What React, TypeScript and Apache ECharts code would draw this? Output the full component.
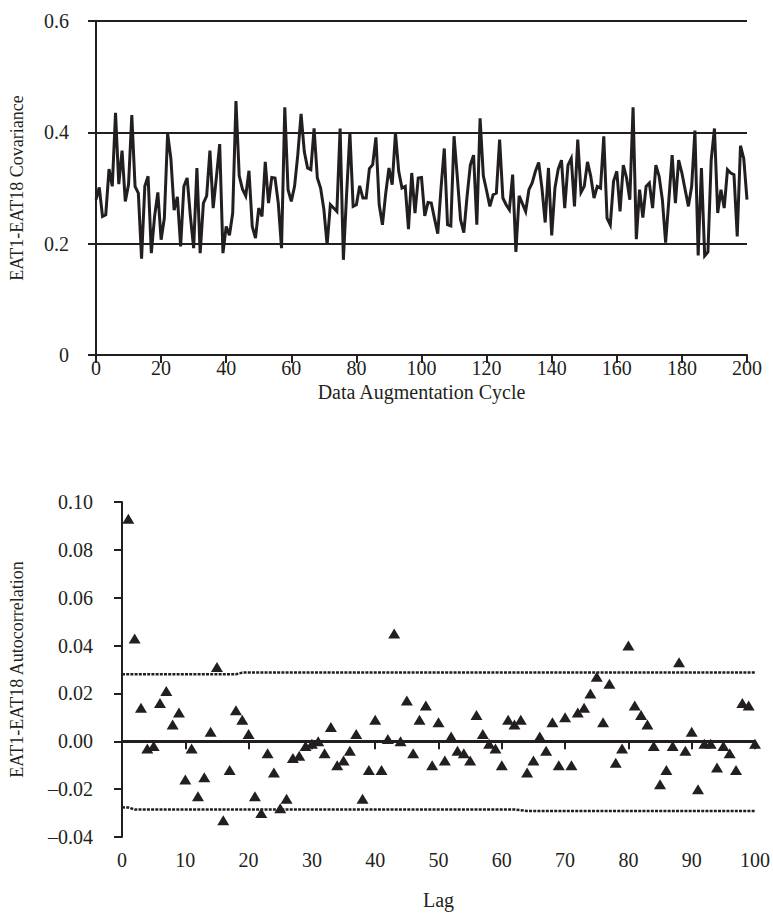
import React, { useEffect, useRef } from "react";
import * as echarts from "echarts";

// Top panel: covariance per data augmentation cycle (cycles 0..200)
const covariance: number[] = [
  0.279, 0.301, 0.249, 0.252, 0.334, 0.303, 0.435, 0.307, 0.367, 0.276,
  0.306, 0.431, 0.303, 0.291, 0.173, 0.303, 0.321, 0.183, 0.249, 0.292,
  0.207, 0.246, 0.398, 0.353, 0.260, 0.284, 0.195, 0.303, 0.318, 0.249,
  0.192, 0.336, 0.183, 0.273, 0.286, 0.367, 0.264, 0.320, 0.379, 0.183,
  0.231, 0.215, 0.255, 0.456, 0.322, 0.298, 0.286, 0.331, 0.231, 0.210,
  0.264, 0.249, 0.347, 0.273, 0.319, 0.318, 0.273, 0.192, 0.445, 0.297,
  0.276, 0.303, 0.360, 0.433, 0.365, 0.336, 0.333, 0.407, 0.318, 0.300,
  0.262, 0.198, 0.270, 0.264, 0.258, 0.407, 0.171, 0.290, 0.399, 0.267,
  0.270, 0.304, 0.282, 0.282, 0.335, 0.342, 0.391, 0.270, 0.234, 0.290,
  0.336, 0.306, 0.399, 0.330, 0.300, 0.303, 0.226, 0.327, 0.255, 0.318,
  0.319, 0.250, 0.274, 0.273, 0.245, 0.218, 0.300, 0.371, 0.234, 0.232,
  0.393, 0.320, 0.243, 0.220, 0.285, 0.341, 0.359, 0.234, 0.425, 0.322,
  0.295, 0.267, 0.288, 0.291, 0.387, 0.282, 0.270, 0.261, 0.324, 0.185,
  0.286, 0.272, 0.258, 0.297, 0.309, 0.330, 0.346, 0.300, 0.238, 0.336,
  0.215, 0.300, 0.334, 0.350, 0.264, 0.341, 0.353, 0.267, 0.387, 0.292,
  0.303, 0.347, 0.321, 0.282, 0.303, 0.300, 0.393, 0.246, 0.234, 0.312,
  0.330, 0.258, 0.341, 0.318, 0.279, 0.445, 0.208, 0.297, 0.247, 0.303,
  0.309, 0.264, 0.341, 0.321, 0.279, 0.202, 0.279, 0.359, 0.273, 0.350,
  0.327, 0.297, 0.267, 0.303, 0.403, 0.179, 0.336, 0.178, 0.185, 0.350,
  0.407, 0.255, 0.297, 0.264, 0.333, 0.327, 0.324, 0.213, 0.376, 0.353,
  0.279,
];

// Bottom panel: autocorrelation per lag (lags 1..100)
const autocorrelation: number[] = [
  0.093, 0.043, 0.014, -0.003, -0.002, 0.016, 0.021, 0.007, 0.012, -0.016,
  -0.003, -0.023, -0.015, 0.004, 0.031, -0.033, -0.012, 0.013, 0.009, 0.003,
  -0.023, -0.030, -0.005, -0.013, -0.028, -0.024, -0.007, -0.006, -0.002, -0.001,
  0.000, -0.005, 0.006, -0.010, -0.008, -0.004, 0.003, -0.024, -0.012, 0.009,
  -0.012, 0.001, 0.045, -0.000, 0.017, -0.005, 0.009, 0.015, -0.010, 0.008,
  -0.008, 0.002, -0.004, -0.005, -0.008, 0.011, 0.003, -0.001, -0.003, -0.010,
  0.009, 0.007, 0.009, -0.013, -0.008, 0.002, -0.004, 0.008, -0.010, 0.010,
  -0.010, 0.012, 0.014, 0.020, 0.027, 0.008, 0.024, -0.009, -0.003, 0.040,
  0.015, 0.011, 0.007, -0.002, -0.018, -0.012, -0.002, 0.033, -0.004, 0.004,
  -0.020, -0.001, -0.001, -0.011, -0.002, -0.005, -0.012, 0.016, 0.015, -0.001,
];

// Confidence bands (lag, value)
const upperBandLags: number[] = [0, 18, 19, 100];
const upperBand: number[] = [0.028, 0.028, 0.0287, 0.0287];
const lowerBandLags: number[] = [0, 1, 2, 62, 64, 100];
const lowerBand: number[] = [-0.0276, -0.0277, -0.0285, -0.0285, -0.0291, -0.0291];

const covTicks: number[] = [0, 0.2, 0.4, 0.6];
const acfTicks: number[] = [-0.04, -0.02, 0, 0.02, 0.04, 0.06, 0.08, 0.1];

const INK = "#231f20";
const FONT = "Liberation Serif";

export default function App() {
  const ref = useRef<HTMLDivElement>(null);

  useEffect(() => {
    document.body.style.margin = "0";
    const chart = echarts.init(ref.current!, undefined, { renderer: "svg" });
    const labelStyle = { color: INK, fontFamily: FONT, fontSize: 20 };
    const xNameStyle = { color: INK, fontFamily: FONT, fontSize: 20 };
    const yNameStyle = { color: INK, fontFamily: FONT, fontSize: 18 };
    const axisLine = { show: true, lineStyle: { color: INK, width: 2 } };
    const axisTick = { show: true, inside: false, length: 8, lineStyle: { color: INK, width: 2 } };

    chart.setOption({
      animation: false,
      backgroundColor: "#ffffff",
      textStyle: { fontFamily: FONT },
      grid: [
        { left: 94, right: 26, top: 21, bottom: 561, containLabel: false },
        { left: 121, right: 15, top: 502, bottom: 79, containLabel: false },
      ],
      xAxis: [
        {
          gridIndex: 0,
          type: "value",
          min: 0,
          max: 200,
          interval: 20,
          name: "Data Augmentation Cycle",
          nameLocation: "middle",
          nameGap: 27,
          nameTextStyle: xNameStyle,
          axisLine,
          axisTick,
          axisLabel: { ...labelStyle, margin: 3 },
          splitLine: { show: false },
        },
        {
          gridIndex: 1,
          type: "value",
          min: 0,
          max: 100,
          interval: 10,
          name: "Lag",
          nameLocation: "middle",
          nameGap: 53,
          nameTextStyle: xNameStyle,
          axisLine,
          axisTick,
          axisLabel: { ...labelStyle, margin: 13 },
          splitLine: { show: false },
        },
      ],
      yAxis: [
        {
          gridIndex: 0,
          type: "value",
          min: covTicks[0],
          max: covTicks[covTicks.length - 1],
          interval: 0.2,
          name: "EAT1-EAT18 Covariance",
          nameLocation: "middle",
          nameGap: 70,
          nameTextStyle: yNameStyle,
          axisLine,
          axisTick,
          axisLabel: {
            ...labelStyle,
            margin: 27,
            formatter: (v: number) => (v === 0 ? "0" : v.toFixed(1)),
          },
          splitLine: { show: true, lineStyle: { color: INK, width: 2 } },
        },
        {
          gridIndex: 1,
          type: "value",
          min: acfTicks[0],
          max: acfTicks[acfTicks.length - 1],
          interval: 0.02,
          name: "EAT1-EAT18 Autocorrelation",
          nameLocation: "middle",
          nameGap: 96,
          nameTextStyle: yNameStyle,
          axisLine,
          axisTick,
          axisLabel: {
            ...labelStyle,
            margin: 29,
            formatter: (v: number) => {
              const s = Math.abs(v).toFixed(2);
              return v < -1e-9 ? "\u2013" + s : s;
            },
          },
          splitLine: { show: false },
        },
      ],
      series: [
        {
          type: "line",
          xAxisIndex: 0,
          yAxisIndex: 0,
          data: covariance.map((v, i) => [i, v]),
          showSymbol: false,
          symbol: "none",
          lineStyle: { color: INK, width: 3, join: "miter" },
          z: 5,
        },
        {
          type: "line",
          xAxisIndex: 1,
          yAxisIndex: 1,
          data: [
            [0, 0],
            [100, 0],
          ],
          symbol: "none",
          lineStyle: { color: INK, width: 2.5 },
          z: 3,
        },
        {
          type: "line",
          xAxisIndex: 1,
          yAxisIndex: 1,
          data: upperBandLags.map((l, i) => [l, upperBand[i]]),
          symbol: "none",
          lineStyle: { color: INK, width: 2.5, type: [3, 1.2] },
          z: 3,
        },
        {
          type: "line",
          xAxisIndex: 1,
          yAxisIndex: 1,
          data: lowerBandLags.map((l, i) => [l, lowerBand[i]]),
          symbol: "none",
          lineStyle: { color: INK, width: 2.5, type: [3, 1.2] },
          z: 3,
        },
        {
          type: "scatter",
          xAxisIndex: 1,
          yAxisIndex: 1,
          data: autocorrelation.map((v, i) => [i + 1, v]),
          symbol: "triangle",
          symbolSize: [12, 10],
          itemStyle: { color: INK, opacity: 1 },
          z: 6,
        },
      ],
    });
    return () => chart.dispose();
  }, []);

  return <div ref={ref} style={{ width: 773, height: 916 }} />;
}
